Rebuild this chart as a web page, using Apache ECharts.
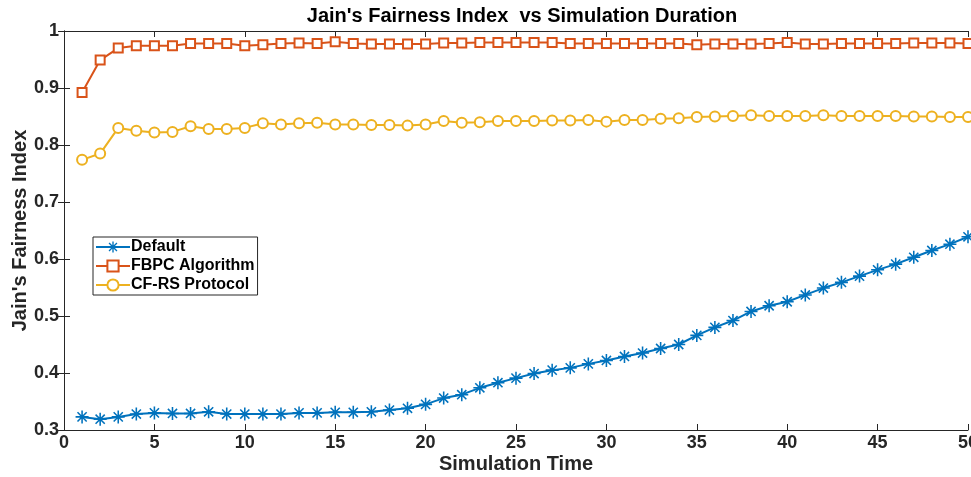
<!DOCTYPE html>
<html><head><meta charset="utf-8">
<script src="https://cdn.jsdelivr.net/npm/echarts@6/dist/echarts.min.js"></script>
<style>html,body{margin:0;padding:0;background:#fff;overflow:hidden}#c{width:971px;height:477px}</style>
</head><body><div id="c"></div>
<script>
const xValues = Array.from({length: 50}, (_, i) => i + 1);
const defaultVals = [0.323,0.319,0.323,0.328,0.330,0.329,0.329,0.332,0.328,0.328,
  0.328,0.328,0.330,0.330,0.331,0.331,0.332,0.335,0.338,0.345,
  0.356,0.362,0.374,0.383,0.391,0.399,0.405,0.409,0.416,0.422,
  0.429,0.435,0.443,0.450,0.466,0.480,0.492,0.508,0.518,0.525,
  0.537,0.549,0.559,0.570,0.581,0.591,0.603,0.615,0.626,0.639];
const fbpcVals = [0.892,0.949,0.970,0.974,0.974,0.974,0.978,0.978,0.978,0.974,
  0.976,0.978,0.979,0.978,0.981,0.978,0.977,0.977,0.977,0.977,
  0.979,0.979,0.980,0.980,0.980,0.980,0.980,0.978,0.978,0.978,
  0.978,0.978,0.978,0.978,0.976,0.977,0.977,0.977,0.978,0.980,
  0.977,0.977,0.978,0.978,0.978,0.978,0.979,0.979,0.979,0.978];
const cfrsVals = [0.774,0.785,0.830,0.825,0.822,0.823,0.833,0.828,0.828,0.830,
  0.838,0.836,0.838,0.839,0.836,0.836,0.835,0.835,0.834,0.836,
  0.842,0.839,0.840,0.842,0.842,0.842,0.843,0.843,0.844,0.841,
  0.844,0.844,0.846,0.847,0.849,0.850,0.851,0.852,0.851,0.851,
  0.851,0.852,0.851,0.851,0.851,0.851,0.850,0.850,0.849,0.849];
const seriesNames = ['Default', 'FBPC Algorithm', 'CF-RS Protocol'];
const seriesColors = ['#0072BD', '#D95319', '#EDB120'];

const star = 'path://M-1.2,-10L1.2,-10L1.2,10L-1.2,10Z M-10,-1.2L10,-1.2L10,1.2L-10,1.2Z M-6.2,-7.9L7.9,6.2L6.2,7.9L-7.9,-6.2Z M-7.9,6.2L6.2,-7.9L7.9,-6.2L-6.2,7.9Z';
const FONT = 'Liberation Sans, Arial, Helvetica, sans-serif';
const axisColor = '#262626';

function pairs(vals){ return xValues.map((x,i)=>[x, vals[i]]); }

const chart = echarts.init(document.getElementById('c'), null, {renderer:'canvas', width: 971, height: 477});
chart.setOption({
  animation: false,
  backgroundColor: '#fff',
  title: {
    text: "Jain's Fairness Index  vs Simulation Duration",
    left: 517, top: 1, textAlign: 'center',
    textStyle: {fontFamily: FONT, fontWeight: 'bold', fontSize: 20, color: '#000'}
  },
  grid: {left: 64, right: 3, top: 31, bottom: 47, containLabel: false, outerBoundsMode: 'none'},
  legend: {
    left: 93, top: 237, orient: 'vertical',
    itemWidth: 34, itemHeight: 14, itemGap: 3,
    padding: [2, 3, 2, 2],
    backgroundColor: '#fff', borderColor: axisColor, borderWidth: 1,
    textStyle: {fontFamily: FONT, fontWeight: 'bold', fontSize: 16, lineHeight: 14, color: '#000', padding: [0,0,0,-4]},
    data: seriesNames
  },
  xAxis: [{
    type: 'value', min: 0, max: 50, interval: 5,
    name: 'Simulation Time', nameLocation: 'middle', nameGap: 24, nameMoveOverlap: false,
    nameTextStyle: {fontFamily: FONT, fontWeight: 'bold', fontSize: 20, color: '#262626'},
    axisLine: {lineStyle: {color: axisColor, width: 1}},
    axisTick: {inside: true, length: 6, lineStyle: {color: axisColor}},
    axisLabel: {fontFamily: FONT, fontWeight: 'bold', fontSize: 18, color: '#262626', margin: 4},
    splitLine: {show: false}
  }, {
    type: 'value', min: 0, max: 50, interval: 5, position: 'top',
    axisLine: {lineStyle: {color: axisColor, width: 1}},
    axisTick: {inside: true, length: 6, lineStyle: {color: axisColor}},
    axisLabel: {show: false}, splitLine: {show: false}
  }],
  yAxis: [{
    type: 'value', min: 0.3, max: 1, interval: 0.1,
    name: "Jain's Fairness Index", nameLocation: 'middle', nameGap: 34, nameMoveOverlap: false,
    nameTextStyle: {fontFamily: FONT, fontWeight: 'bold', fontSize: 20, color: '#262626'},
    axisLine: {show: true, lineStyle: {color: axisColor, width: 1}},
    axisTick: {show: true, inside: true, length: 6, lineStyle: {color: axisColor}},
    axisLabel: {fontFamily: FONT, fontWeight: 'bold', fontSize: 18, color: '#262626', margin: 5,
      formatter: v => (Math.round(v*10)/10).toString()},
    splitLine: {show: false}
  }, {
    type: 'value', min: 0.3, max: 1, interval: 0.1, position: 'right',
    axisLine: {show: true, lineStyle: {color: axisColor, width: 1}},
    axisTick: {show: true, inside: true, length: 6, lineStyle: {color: axisColor}},
    axisLabel: {show: false}, splitLine: {show: false}
  }],
  series: [{
    name: seriesNames[0], type: 'line', data: pairs(defaultVals),
    symbol: star, symbolSize: 13, color: seriesColors[0],
    lineStyle: {width: 2, color: seriesColors[0]},
    itemStyle: {color: seriesColors[0], borderWidth: 0}, z: 3
  }, {
    name: seriesNames[1], type: 'line', data: pairs(fbpcVals),
    symbol: 'emptyRect', symbolSize: 9, color: seriesColors[1],
    lineStyle: {width: 2, color: seriesColors[1]},
    itemStyle: {color: seriesColors[1], borderWidth: 1.8}, z: 2
  }, {
    name: seriesNames[2], type: 'line', data: pairs(cfrsVals),
    symbol: 'emptyCircle', symbolSize: 10, color: seriesColors[2],
    lineStyle: {width: 2, color: seriesColors[2]},
    itemStyle: {color: seriesColors[2], borderWidth: 1.8}, z: 2
  }]
});
</script></body></html>
